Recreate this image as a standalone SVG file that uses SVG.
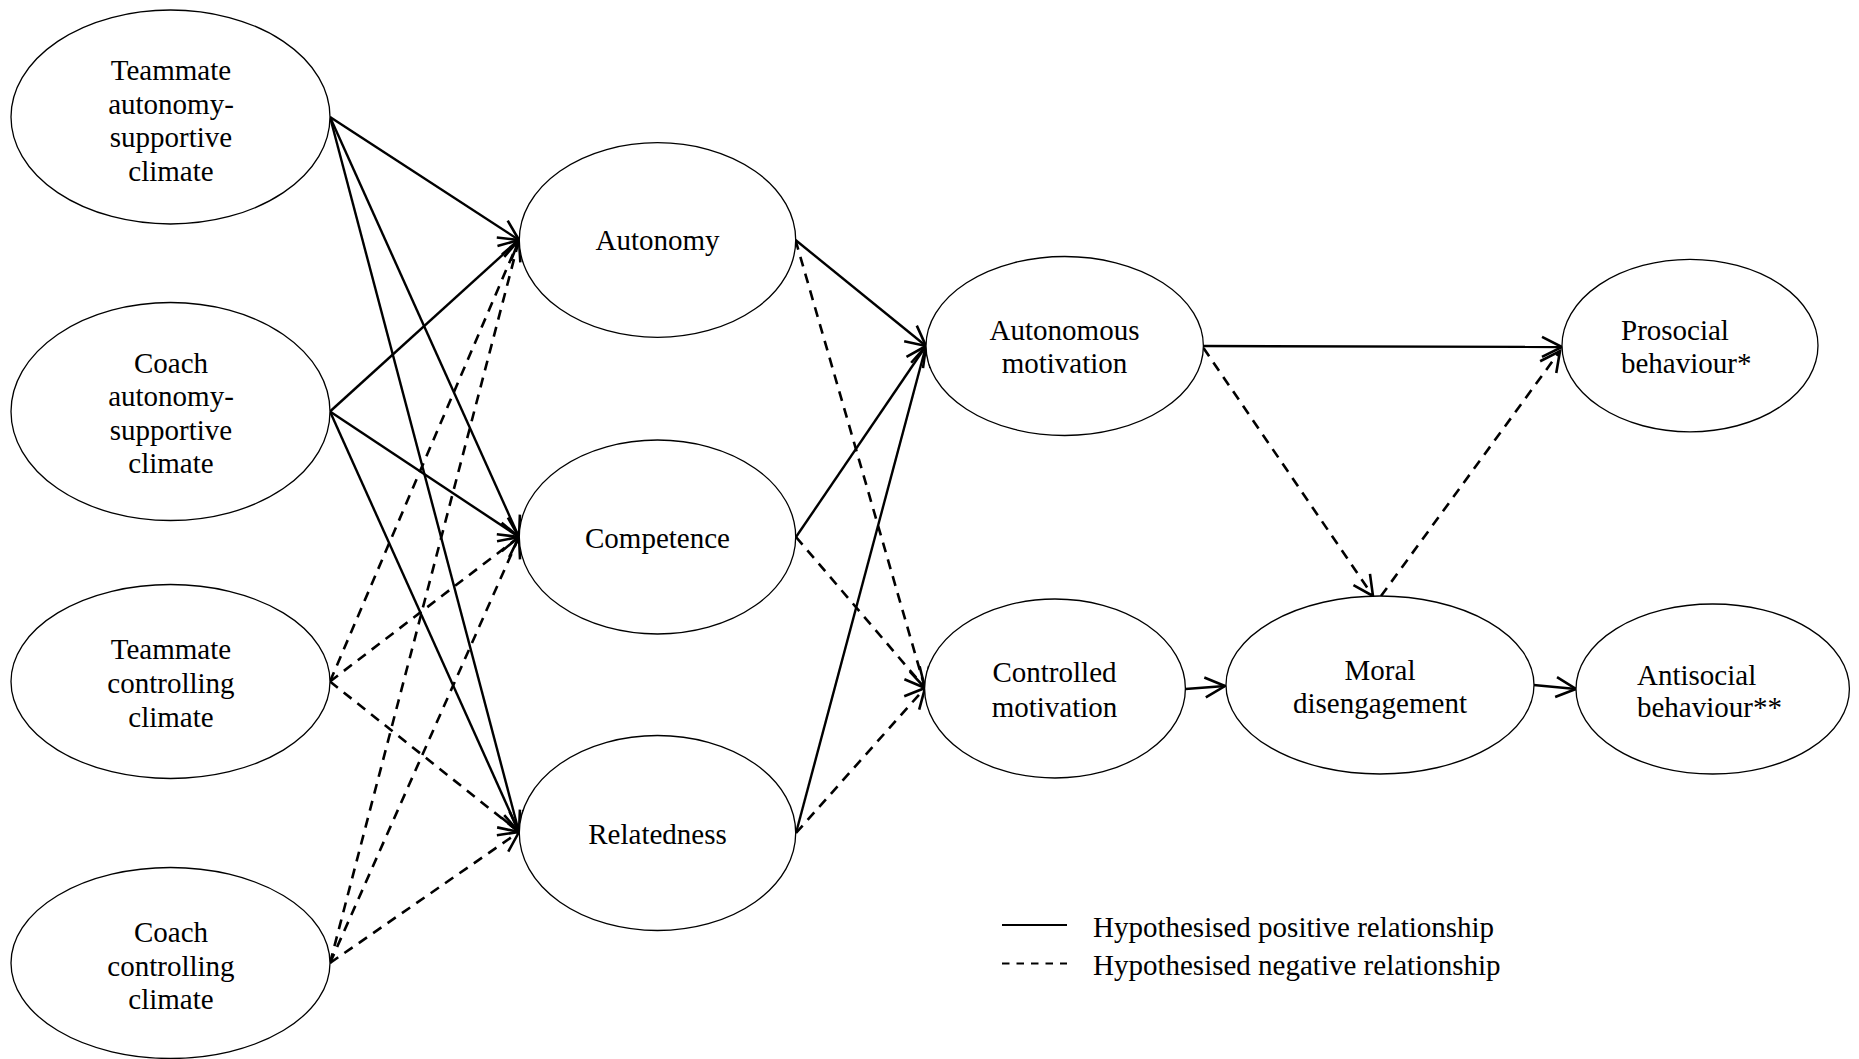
<svg xmlns="http://www.w3.org/2000/svg" width="1859" height="1059" viewBox="0 0 1859 1059">
<style>
  .node ellipse { fill: #ffffff; stroke: #000000; stroke-width: 1.3; }
  text { font-family: "Liberation Serif", "Times New Roman", serif; font-size: 29px; fill: #000000; }
  .c { text-anchor: middle; }
  .l { text-anchor: start; }
  .pos { stroke: #000000; stroke-width: 2.4; fill: none; marker-end: url(#arr); }
  .neg { stroke: #000000; stroke-width: 2.6; fill: none; stroke-dasharray: 10 7.5; marker-end: url(#arr); }
  .leg { stroke: #000000; stroke-width: 2; fill: none; }
</style>
<defs>
  <marker id="arr" markerUnits="userSpaceOnUse" markerWidth="26" markerHeight="26" refX="21" refY="13" orient="auto" overflow="visible">
    <path d="M1,3 L21,13 L1,23" fill="none" stroke="#000000" stroke-width="2.6" stroke-linejoin="miter"/>
  </marker>
</defs>
<rect width="1859" height="1059" fill="#ffffff"/>

<g id="connectors">
  <line class="pos" x1="330" y1="117" x2="519" y2="240"/>
  <line class="pos" x1="330" y1="117" x2="519" y2="537"/>
  <line class="pos" x1="330" y1="117" x2="519" y2="832"/>
  <line class="pos" x1="330" y1="411.5" x2="519" y2="240"/>
  <line class="pos" x1="330" y1="411.5" x2="519" y2="537"/>
  <line class="pos" x1="330" y1="411.5" x2="519" y2="832"/>
  <line class="neg" x1="330" y1="681.5" x2="519" y2="240"/>
  <line class="neg" x1="330" y1="681.5" x2="519" y2="537"/>
  <line class="neg" x1="330" y1="681.5" x2="519" y2="832"/>
  <line class="neg" x1="330" y1="963" x2="519" y2="240"/>
  <line class="neg" x1="330" y1="963" x2="519" y2="537"/>
  <line class="neg" x1="330" y1="963" x2="519" y2="832"/>
  <line class="pos" x1="795.5" y1="240" x2="926" y2="346"/>
  <line class="neg" x1="795.5" y1="240" x2="925" y2="688"/>
  <line class="pos" x1="796" y1="537" x2="926" y2="346"/>
  <line class="neg" x1="796" y1="537" x2="925" y2="688"/>
  <line class="pos" x1="796" y1="833" x2="926" y2="346"/>
  <line class="neg" x1="796" y1="833" x2="925" y2="688"/>
  <line class="pos" x1="1203.5" y1="346" x2="1562" y2="347"/>
  <line class="neg" x1="1203.5" y1="348" x2="1373" y2="596"/>
  <line class="neg" x1="1381" y1="596" x2="1560" y2="351"/>
  <line class="pos" x1="1185.5" y1="689" x2="1225" y2="686"/>
  <line class="pos" x1="1533.5" y1="685" x2="1576" y2="689"/>
</g>

<g id="n-teammate-as" class="node">
  <ellipse cx="170.5" cy="117" rx="159.5" ry="107"/>
  <text class="c" x="171" y="80">Teammate</text>
  <text class="c" x="171" y="113.5">autonomy-</text>
  <text class="c" x="171" y="147">supportive</text>
  <text class="c" x="171" y="180.5">climate</text>
</g>
<g id="n-coach-as" class="node">
  <ellipse cx="170.5" cy="411.5" rx="159.5" ry="109"/>
  <text class="c" x="171" y="372.5">Coach</text>
  <text class="c" x="171" y="405.5">autonomy-</text>
  <text class="c" x="171" y="439.5">supportive</text>
  <text class="c" x="171" y="472.5">climate</text>
</g>
<g id="n-teammate-c" class="node">
  <ellipse cx="170.5" cy="681.5" rx="159.5" ry="97"/>
  <text class="c" x="171" y="659">Teammate</text>
  <text class="c" x="171" y="693">controlling</text>
  <text class="c" x="171" y="727">climate</text>
</g>
<g id="n-coach-c" class="node">
  <ellipse cx="170.5" cy="963" rx="159.5" ry="95.5"/>
  <text class="c" x="171" y="942">Coach</text>
  <text class="c" x="171" y="976">controlling</text>
  <text class="c" x="171" y="1009">climate</text>
</g>

<g id="n-autonomy" class="node">
  <ellipse cx="657.5" cy="240" rx="138.2" ry="97.3"/>
  <text class="c" x="657.5" y="250">Autonomy</text>
</g>
<g id="n-competence" class="node">
  <ellipse cx="657.5" cy="537" rx="138.2" ry="97"/>
  <text class="c" x="657.5" y="548">Competence</text>
</g>
<g id="n-relatedness" class="node">
  <ellipse cx="657.5" cy="833" rx="138.2" ry="97.5"/>
  <text class="c" x="657.5" y="844">Relatedness</text>
</g>

<g id="n-autonomous" class="node">
  <ellipse cx="1064.7" cy="346" rx="138.7" ry="89.5"/>
  <text class="c" x="1064.5" y="340">Autonomous</text>
  <text class="c" x="1064.5" y="373">motivation</text>
</g>
<g id="n-controlled" class="node">
  <ellipse cx="1055" cy="688.5" rx="130.4" ry="89.5"/>
  <text class="c" x="1054.5" y="682">Controlled</text>
  <text class="c" x="1054.5" y="716.5">motivation</text>
</g>

<g id="n-moral" class="node">
  <ellipse cx="1380" cy="685" rx="154" ry="89"/>
  <text class="c" x="1380" y="680">Moral</text>
  <text class="c" x="1380" y="713">disengagement</text>
</g>
<g id="n-prosocial" class="node">
  <ellipse cx="1690" cy="345.6" rx="128" ry="86.2"/>
  <text class="l" x="1621" y="339.5">Prosocial</text>
  <text class="l" x="1621" y="372.5">behaviour*</text>
</g>
<g id="n-antisocial" class="node">
  <ellipse cx="1712.7" cy="689" rx="136.7" ry="85"/>
  <text class="l" x="1637" y="685">Antisocial</text>
  <text class="l" x="1637" y="716.5">behaviour**</text>
</g>

<g id="legend">
  <line class="leg" x1="1002" y1="925" x2="1067" y2="925"/>
  <line class="leg" x1="1002" y1="963.5" x2="1067" y2="963.5" stroke-dasharray="7.5 7"/>
  <text class="l" x="1093" y="936.5">Hypothesised positive relationship</text>
  <text class="l" x="1093" y="974.5">Hypothesised negative relationship</text>
</g>
</svg>
